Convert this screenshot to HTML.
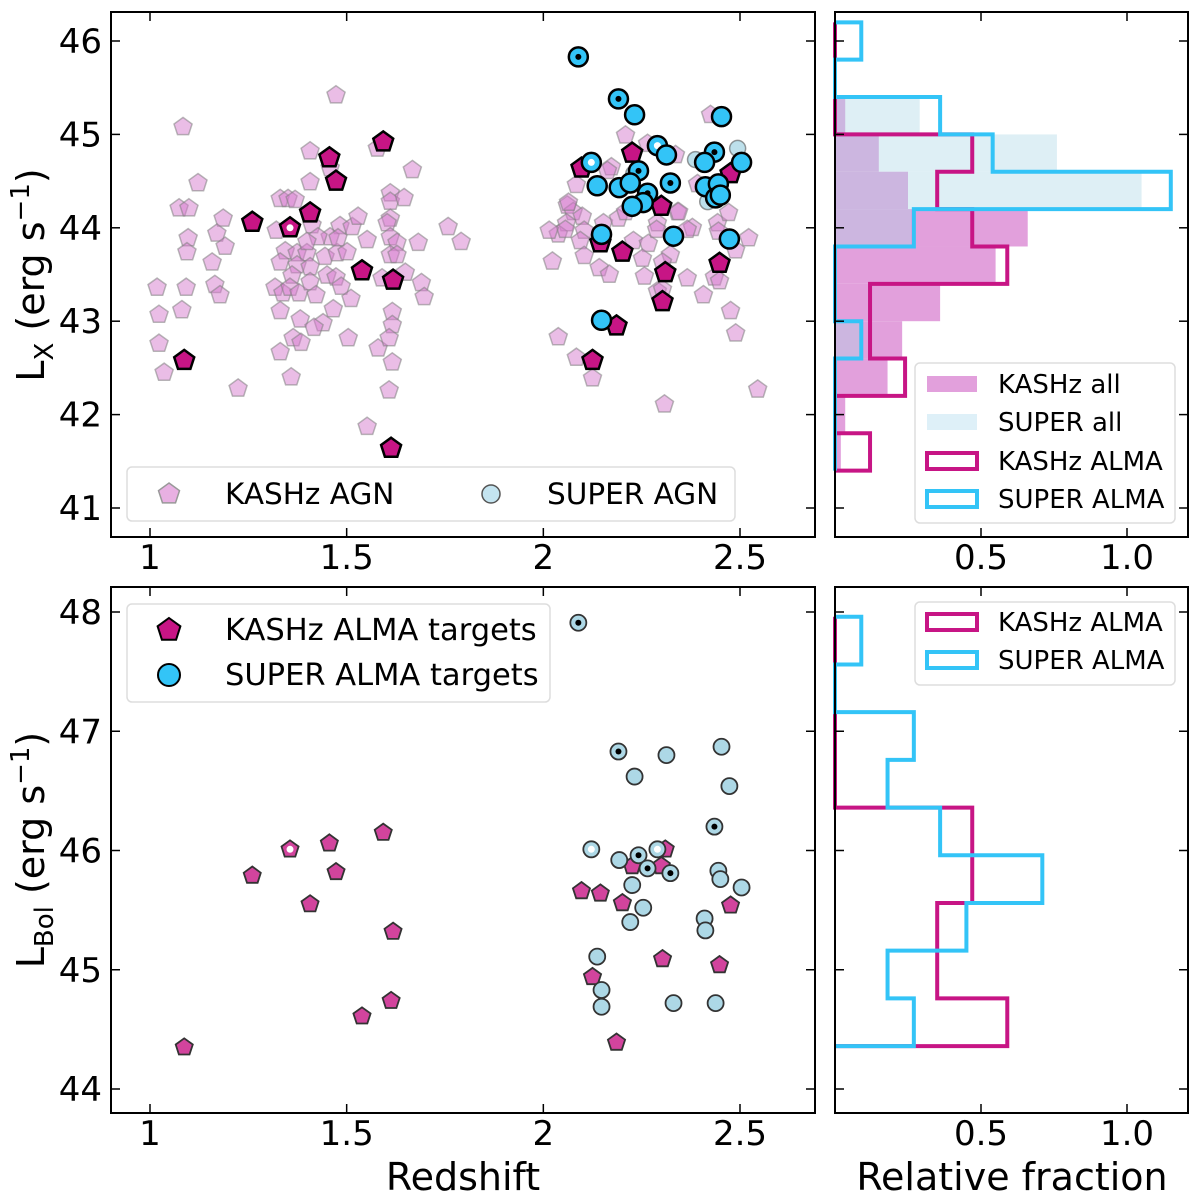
<!DOCTYPE html>
<html><head><meta charset="utf-8"><style>
html,body{margin:0;padding:0;background:#fff;}
svg{display:block;font-family:"DejaVu Sans","Liberation Sans",sans-serif;}
</style></head><body>
<svg id="fig" width="1200" height="1200" viewBox="0 0 1200 1200" xmlns="http://www.w3.org/2000/svg">
<rect width="1200" height="1200" fill="#fff"/>
<g id="layer"></g>
</svg>
<script>
// ===== data =====
const kashzAgn = [[1.473,45.42],[1.084,45.08],[1.407,44.82],[1.578,44.85],[1.458,44.64],[1.667,44.62],[1.122,44.48],[1.407,44.49],[1.074,44.21],[1.099,44.21],[1.331,44.31],[1.351,44.31],[1.369,44.30],[1.611,44.37],[1.611,44.28],[1.646,44.32],[1.186,44.10],[1.321,43.97],[1.407,44.16],[1.412,44.03],[1.483,44.02],[1.514,44.01],[1.529,44.12],[1.611,44.10],[1.603,44.05],[1.758,44.01],[1.791,43.85],[1.682,43.84],[1.552,43.87],[1.611,43.90],[1.628,43.84],[1.097,43.89],[1.094,43.74],[1.170,43.94],[1.191,43.80],[1.158,43.63],[1.344,43.75],[1.374,43.73],[1.399,43.73],[1.331,43.63],[1.374,43.60],[1.407,43.58],[1.445,43.69],[1.476,43.73],[1.501,43.74],[1.458,43.90],[1.478,43.89],[1.427,43.90],[1.399,43.85],[1.611,43.71],[1.628,43.71],[1.018,43.36],[1.092,43.36],[1.165,43.39],[1.178,43.28],[1.023,43.07],[1.081,43.12],[1.318,43.36],[1.338,43.30],[1.361,43.49],[1.356,43.36],[1.379,43.30],[1.407,43.42],[1.422,43.28],[1.450,43.49],[1.473,43.47],[1.486,43.37],[1.511,43.24],[1.590,43.46],[1.649,43.52],[1.690,43.41],[1.697,43.26],[1.331,43.11],[1.382,43.02],[1.466,43.13],[1.440,42.98],[1.417,42.93],[1.616,43.10],[1.616,42.96],[1.023,42.76],[1.036,42.45],[1.364,42.82],[1.384,42.77],[1.331,42.67],[1.504,42.82],[1.580,42.71],[1.608,42.82],[1.616,42.56],[1.359,42.40],[1.224,42.28],[1.608,42.26],[1.552,41.87],
[2.061,44.24],[2.076,44.17],[2.099,44.12],[2.059,44.05],[2.038,43.93],[2.056,43.98],[2.104,43.97],[2.094,43.86],[2.023,43.64],[2.104,43.70],[2.142,43.57],[2.168,43.50],[2.153,44.05],[2.191,44.10],[2.229,43.86],[2.267,43.83],[2.252,43.67],[2.257,43.48],[2.209,44.17],[2.290,44.05],[2.288,43.98],[2.323,43.71],[2.303,43.63],[2.341,44.17],[2.379,44.00],[2.366,43.98],[2.366,43.46],[2.443,44.05],[2.445,43.96],[2.471,44.16],[2.522,43.89],[2.489,43.76],[2.435,43.47],[2.448,43.43],[2.407,43.28],[2.290,43.32],[2.303,43.34],[2.476,43.11],[2.489,42.87],[2.038,42.83],[2.084,42.61],[2.125,42.39],[2.545,42.27],[2.308,42.11],[2.425,45.21],[2.209,44.99],[2.265,44.90],[2.336,44.78],[2.173,44.65],[2.163,44.61],[2.084,44.46],[2.392,44.47],[2.344,44.17],[2.064,44.27],[2.015,43.97]];
const superAgn = [[2.494,44.85],[2.387,44.73],[2.230,44.58],[2.418,44.28]];
const kashzAlmaZ = [1.087,1.260,1.356,1.407,1.456,1.473,1.593,1.539,1.618,1.613,2.097,2.226,2.476,2.300,2.145,2.201,2.310,2.448,2.303,2.186,2.125];
const kashzAlmaLx = [42.58,44.06,44.00,44.16,44.75,44.50,44.92,43.54,43.44,41.64,44.64,44.80,44.58,44.23,43.84,43.74,43.52,43.62,43.21,42.95,42.58];
const kashzAlmaLbol = [44.35,45.79,46.01,45.55,46.06,45.82,46.15,44.61,45.32,44.74,45.66,45.87,45.54,45.87,45.64,45.56,46.01,45.04,45.09,44.39,44.94];
const kashzAlmaMark = [0,0,2,0,0,0,0,0,0,0,0,0,0,0,0,0,0,0,0,0,0];
const superAlmaZ = [2.089,2.191,2.232,2.453,2.290,2.313,2.122,2.435,2.410,2.504,2.242,2.323,2.137,2.193,2.221,2.412,2.445,2.438,2.450,2.265,2.254,2.226,2.148,2.331,2.473,2.148];
const superAlmaLx = [45.83,45.38,45.21,45.19,44.88,44.78,44.70,44.81,44.70,44.70,44.61,44.48,44.45,44.43,44.48,44.44,44.47,44.32,44.35,44.37,44.27,44.23,43.93,43.91,43.88,43.01];
const superAlmaLbol = [47.91,46.83,46.62,46.87,46.01,46.80,46.01,46.20,45.43,45.69,45.96,45.81,45.11,45.92,45.40,45.33,45.83,44.72,45.76,45.85,45.52,45.71,44.83,44.72,46.54,44.69];
const superAlmaMark = [1,1,0,0,2,0,2,1,0,0,1,1,0,0,0,0,0,0,0,1,0,0,0,0,0,0];
const topBinStart = 41.4, binWidth = 0.4;
const kashzAllHist = [0.02,0.035,0.18,0.23,0.36,0.55,0.66,0.25,0.15,0.035,0,0];
const superAllHist = [0,0,0,0.09,0,0,0.26,1.05,0.76,0.29,0,0];
const kashzAlmaHistTop = [0.12,0,0.24,0.12,0.12,0.59,0.47,0.35,0.47,0,0,0];
const superAlmaHistTop = [0,0,0,0.09,0,0,0.27,1.15,0.54,0.36,0,0.09];
const botBinStart = 44.36;
const kashzAlmaHistBot = [0.59,0.35,0.35,0.47,0.47,0,0,0,0];
const superAlmaHistBot = [0.27,0.18,0.45,0.71,0.36,0.18,0.27,0,0.09];
const zTicks = [1,1.5,2,2.5], zTickLabels = ["1","1.5","2","2.5"];
const lxTicks = [41,42,43,44,45,46];
const lbolTicks = [44,45,46,47,48];
const fracTicks = [0.5,1.0], fracTickLabels = ["0.5","1.0"];

const NS="http://www.w3.org/2000/svg";
const layer=document.getElementById('layer');
function mk(tag,attrs,parent){const e=document.createElementNS(NS,tag);for(const k in attrs)e.setAttribute(k,attrs[k]);(parent||layer).appendChild(e);return e;}
function lin(d0,d1,r0,r1){return v=>r0+(v-d0)*(r1-r0)/(d1-d0);}
const P={L:111,R:815,HL:835,HR:1188,T1:12,B1:537,T2:587,B2:1113};
const xZ=lin(1,2.5,150,740);
const yLx=lin(41,46,508,41);
const yLb=lin(44,48,1089,612);
const xF=lin(0,1,835,1127);
function pent(cx,cy,r){let p=[];for(let k=0;k<5;k++){const a=(-90+72*k)*Math.PI/180;p.push((cx+r*Math.cos(a)).toFixed(1)+','+(cy+r*Math.sin(a)).toFixed(1));}return p.join(' ');}
function txt(x,y,s,size,anchor,parent){const t=mk('text',{x:x,y:y,'font-size':size,'text-anchor':anchor||'start',fill:'#000'},parent);t.textContent=s;return t;}

function frame(x0,y0,x1,y1,name){const r=mk('rect',{x:x0,y:y0,width:x1-x0,height:y1-y0,fill:'none',stroke:'#000','stroke-width':2});

}
function xticks(xs,fx,y0,y1){xs.forEach(v=>{const x=fx(v);mk('line',{x1:x,x2:x,y1:y1,y2:y1-9,stroke:'#000','stroke-width':1.5});mk('line',{x1:x,x2:x,y1:y0,y2:y0+9,stroke:'#000','stroke-width':1.5});});}
function yticks(ys,fy,x0,x1){ys.forEach(v=>{const y=fy(v);mk('line',{x1:x0,x2:x0+9,y1:y,y2:y,stroke:'#000','stroke-width':1.5});mk('line',{x1:x1,x2:x1-9,y1:y,y2:y,stroke:'#000','stroke-width':1.5});});}

function histFill(vals,start,fy,color,op,name){const g=mk('g',{});


vals.forEach((v,i)=>{if(v<=0)return;const y0=fy(start+i*binWidth),y1=fy(start+(i+1)*binWidth);
const r=mk('rect',{x:P.HL,y:y1,width:xF(v)-P.HL,height:y0-y1,fill:color,'fill-opacity':op},g);

});}
function histStep(vals,start,fy,color,name){let d='';vals.forEach((v,i)=>{const y0=fy(start+i*binWidth),y1=fy(start+(i+1)*binWidth),x=xF(v);
d+=(i===0?'M'+P.HL+','+y0+' ':'')+'L'+x+','+y0+' L'+x+','+y1+' ';});
d+='L'+P.HL+','+fy(start+vals.length*binWidth);
const p=mk('path',{d:d,fill:'none',stroke:color,'stroke-width':4});

}
histFill(kashzAllHist,topBinStart,yLx,'#e2a0dc',1,'kashz-all-hist');
histFill(superAllHist,topBinStart,yLx,'#add8e6',0.4,'super-all-hist');
histStep(kashzAlmaHistTop,topBinStart,yLx,'#c71585','kashz-alma-hist-top');
histStep(superAlmaHistTop,topBinStart,yLx,'#33c4f7','super-alma-hist-top');
histStep(kashzAlmaHistBot,botBinStart,yLb,'#c71585','kashz-alma-hist-bottom');
histStep(superAlmaHistBot,botBinStart,yLb,'#33c4f7','super-alma-hist-bottom');

const gA=mk('g',{});


kashzAgn.forEach(d=>{const p=mk('polygon',{points:pent(xZ(d[0]),yLx(d[1]),9.5),fill:'#d67ccd','fill-opacity':0.5,stroke:'#808080','stroke-opacity':0.55,'stroke-width':1.5},gA);

});
const gS=mk('g',{});


superAgn.forEach(d=>{const c=mk('circle',{cx:xZ(d[0]),cy:yLx(d[1]),r:8,fill:'#add8e6','fill-opacity':0.8,stroke:'#555','stroke-opacity':0.6,'stroke-width':1.5},gS);

});
function markDot(x,y,m,g){if(m===1)mk('circle',{cx:x,cy:y,r:3,fill:'#000'},g);if(m===2)mk('circle',{cx:x,cy:y,r:3.5,fill:'#fff'},g);}
function almaPoints(zs,ls,marks,fy,kind,top){const g=mk('g',{});


zs.forEach((z,i)=>{const x=xZ(z),y=fy(ls[i]);let e;
if(kind==='kashz'){e=mk('polygon',{points:pent(x,y,top?10.5:9),fill:'#c71585','fill-opacity':top?1:0.8,stroke:top?'#000':'#333','stroke-width':top?2.5:1.8},g);}
else{e=mk('circle',{cx:x,cy:y,r:top?9.5:8,fill:top?'#33c4f7':'#add8e6',stroke:top?'#000':'#333','stroke-width':top?2.5:1.8},g);}


markDot(x,y,marks[i],g);});}
almaPoints(kashzAlmaZ,kashzAlmaLx,kashzAlmaMark,yLx,'kashz',true);
almaPoints(superAlmaZ,superAlmaLx,superAlmaMark,yLx,'super',true);
almaPoints(kashzAlmaZ,kashzAlmaLbol,kashzAlmaMark,yLb,'kashz',false);
almaPoints(superAlmaZ,superAlmaLbol,superAlmaMark,yLb,'super',false);

frame(P.L,P.T1,P.R,P.B1,'top-left-axes');
frame(P.HL,P.T1,P.HR,P.B1,'top-right-axes');
frame(P.L,P.T2,P.R,P.B2,'bottom-left-axes');
frame(P.HL,P.T2,P.HR,P.B2,'bottom-right-axes');
xticks(zTicks,xZ,P.T1,P.B1);xticks(zTicks,xZ,P.T2,P.B2);
xticks(fracTicks,xF,P.T1,P.B1);xticks(fracTicks,xF,P.T2,P.B2);
yticks(lxTicks,yLx,P.L,P.R);yticks(lxTicks,yLx,P.HL,P.HR);
yticks(lbolTicks,yLb,P.L,P.R);yticks(lbolTicks,yLb,P.HL,P.HR);
const gT=mk('g',{});


zTicks.forEach((v,i)=>{txt(xZ(v),569,zTickLabels[i],34,'middle',gT);txt(xZ(v),1145,zTickLabels[i],34,'middle',gT);});
fracTicks.forEach((v,i)=>{txt(xF(v),569,fracTickLabels[i],34,'middle',gT);txt(xF(v),1145,fracTickLabels[i],34,'middle',gT);});
lxTicks.forEach(v=>txt(102,yLx(v)+12,String(v),34,'end',gT));
lbolTicks.forEach(v=>txt(102,yLb(v)+12,String(v),34,'end',gT));
</script>
<script>
const svg=document.getElementById('fig');
function add(tag,attrs,html){const e=document.createElementNS("http://www.w3.org/2000/svg",tag);for(const k in attrs)e.setAttribute(k,attrs[k]);if(html!==undefined)e.innerHTML=html;svg.appendChild(e);return e;}
let t=add('text',{x:463,y:1190,'font-size':38,'text-anchor':'middle'},'Redshift');


t=add('text',{x:1012,y:1190,'font-size':38,'text-anchor':'middle'},'Relative fraction');


t=add('text',{transform:'translate(44,275) rotate(-90)','font-size':38,'text-anchor':'middle'},'L<tspan font-size="26" dy="9">X</tspan><tspan dy="-9"> (erg s</tspan><tspan font-size="26" dy="-15">−1</tspan><tspan dy="15">)</tspan>');


t=add('text',{transform:'translate(44,850) rotate(-90)','font-size':38,'text-anchor':'middle'},'L<tspan font-size="26" dy="9">Bol</tspan><tspan dy="-9"> (erg s</tspan><tspan font-size="26" dy="-15">−1</tspan><tspan dy="15">)</tspan>');


</script>
<script>
(function(){
const s=document.getElementById('fig');
const NS="http://www.w3.org/2000/svg";
function m(tag,a,parent){const e=document.createElementNS(NS,tag);for(const k in a)e.setAttribute(k,a[k]);(parent||s).appendChild(e);return e;}
function tx(x,y,str,size,p){const e=m('text',{x:x,y:y,'font-size':size},p);e.textContent=str;return e;}
function pg(cx,cy,r){let p=[];for(let k=0;k<5;k++){const a=(-90+72*k)*Math.PI/180;p.push((cx+r*Math.cos(a)).toFixed(1)+','+(cy+r*Math.sin(a)).toFixed(1));}return p.join(' ');}
let g=m('g',{});


m('rect',{x:127,y:467,width:608,height:54,rx:5,fill:'#fff','fill-opacity':0.85,stroke:'#ddd','stroke-width':1.5},g);
let e=m('polygon',{points:pg(169,494,11),fill:'#e8b0e2',stroke:'#999','stroke-width':1.5},g);


tx(225,504,'KASHz AGN',29.5,g);
e=m('circle',{cx:491,cy:494,r:9,fill:'#c4e4f0',stroke:'#555','stroke-width':1.5},g);


tx(547,504,'SUPER AGN',29.5,g);
g=m('g',{});


m('rect',{x:127,y:604,width:423,height:98,rx:5,fill:'#fff','fill-opacity':0.85,stroke:'#ddd','stroke-width':1.5},g);
e=m('polygon',{points:pg(169,630,12),fill:'#c71585',stroke:'#000','stroke-width':2},g);


tx(225,640,'KASHz ALMA targets',30.5,g);
e=m('circle',{cx:169,cy:675,r:11,fill:'#33c4f7',stroke:'#000','stroke-width':2},g);


tx(225,685,'SUPER ALMA targets',30.5,g);
g=m('g',{});


m('rect',{x:915,y:363,width:260,height:160,rx:5,fill:'#fff','fill-opacity':0.85,stroke:'#ddd','stroke-width':1.5},g);
const ent=[['KASHz all','#e2a0dc','none',384],['SUPER all','#def0f8','none',422],['KASHz ALMA','none','#c71585',461],['SUPER ALMA','none','#33c4f7',499]];
ent.forEach(en=>{const r=m('rect',{x:927,y:en[3]-8,width:50,height:16,fill:en[1]==='none'?'none':en[1],stroke:en[2],'stroke-width':4},g);


tx(998,en[3]+9,en[0],26,g);});
g=m('g',{});


m('rect',{x:915,y:602,width:260,height:83,rx:5,fill:'#fff','fill-opacity':0.85,stroke:'#ddd','stroke-width':1.5},g);
[['KASHz ALMA','#c71585',622],['SUPER ALMA','#33c4f7',660]].forEach(en=>{const r=m('rect',{x:927,y:en[2]-8,width:50,height:16,fill:'none',stroke:en[1],'stroke-width':4},g);


tx(998,en[2]+9,en[0],26,g);});
})();
</script>
</body></html>
